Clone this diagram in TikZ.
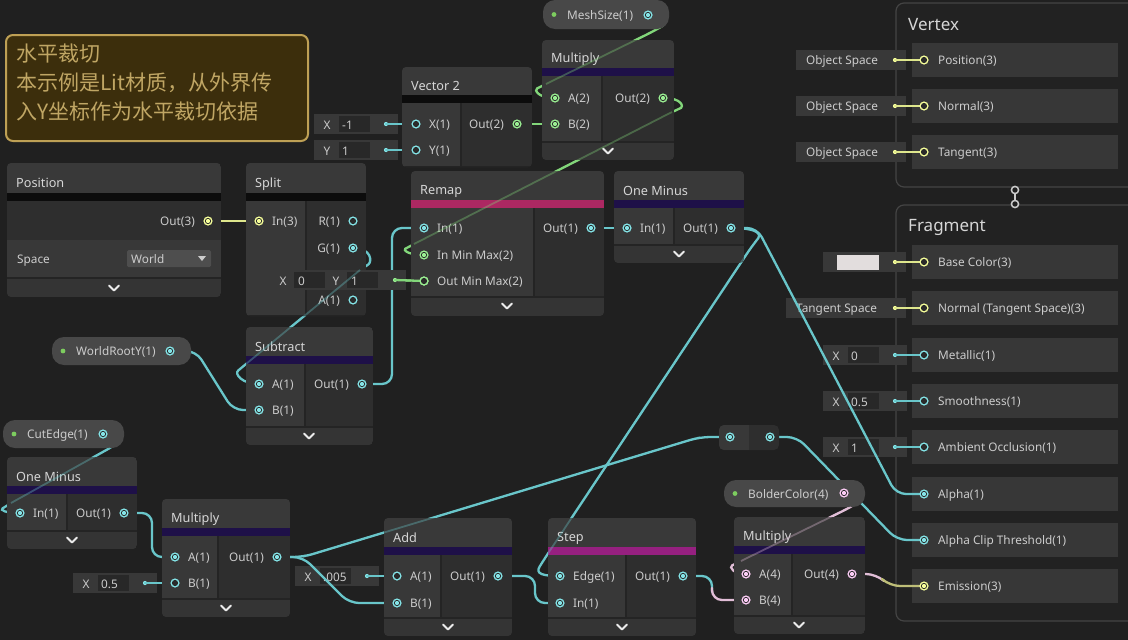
\documentclass[tikz,border=0pt]{standalone}
\usepackage{fontspec}
\setmainfont{Noto Sans}
\newfontfamily\cjk{Noto Sans CJK SC}
\usetikzlibrary{calc}
\definecolor{bg}{RGB}{32,32,32}
\definecolor{hdrc}{RGB}{57,57,57}
\definecolor{incol}{RGB}{56,56,56}
\definecolor{outcol}{RGB}{46,46,46}
\definecolor{colc}{RGB}{52,52,52}
\definecolor{sepc}{RGB}{36,36,36}
\definecolor{barblack}{RGB}{12,12,12}
\definecolor{barpurple}{RGB}{30,16,72}
\definecolor{barremap}{RGB}{172,40,98}
\definecolor{barstep}{RGB}{150,32,128}
\definecolor{cyanp}{RGB}{132,228,231}
\definecolor{greenp}{RGB}{154,239,146}
\definecolor{yellowp}{RGB}{246,255,154}
\definecolor{pinkp}{RGB}{251,203,244}
\definecolor{cyanw}{RGB}{105,198,202}
\definecolor{greenw}{RGB}{130,214,122}
\definecolor{yelloww}{RGB}{222,230,140}
\definecolor{pinkw}{RGB}{225,190,215}
\definecolor{olivew}{RGB}{190,190,120}
\definecolor{portbg}{RGB}{42,42,42}
\definecolor{txt}{RGB}{204,204,204}
\definecolor{ttlc}{RGB}{214,214,214}
\definecolor{pillc}{RGB}{72,72,72}
\definecolor{propdot}{RGB}{125,205,95}
\definecolor{slotc}{RGB}{55,55,55}
\definecolor{stackfill}{RGB}{34,34,34}
\definecolor{stackline}{RGB}{68,68,68}
\definecolor{fbox}{RGB}{56,56,56}
\definecolor{fin}{RGB}{40,40,40}
\definecolor{ddc}{RGB}{78,78,78}
\definecolor{notefill}{RGB}{60,46,12}
\definecolor{noteline}{RGB}{190,160,85}
\definecolor{notetxt}{RGB}{192,166,100}
\definecolor{chevc}{RGB}{235,235,235}
\definecolor{swatch}{RGB}{226,221,221}

\newcommand{\gnode}[9]{%
\coordinate (#1) at ({(#2+#4)/2},{(#3+#5)/2});
\begin{scope}
\clip[rounded corners=4] (#2,#3) rectangle (#4,#5);
\fill[hdrc] (#2,#3) rectangle (#4,#6);
\fill[#9] (#2,#6) rectangle (#4,#6+8);
\fill[incol] (#2,#6+8) rectangle (#7,#8);
\fill[outcol] (#7,#6+8) rectangle (#4,#8);
\fill[colc] (#2,#8) rectangle (#4,#5);
\draw[sepc,line width=1.2] (#7,#6+8) -- (#7,#8);
\draw[sepc,line width=1.2] (#2,#8) -- (#4,#8);
\end{scope}}
\newcommand{\gchev}[2]{\draw[chevc,line width=2,line cap=round,line join=round] (#1-5,#2-2.5) -- (#1,#2+2.5) -- (#1+5,#2-2.5);}
\newcommand{\gportf}[2]{\fill[#2] (#1) circle (4.6); \fill[portbg] (#1) circle (3.1); \fill[#2] (#1) circle (2.1);}
\newcommand{\gporth}[2]{\fill[#2] (#1) circle (4.6); \fill[portbg] (#1) circle (3.1);}
\newcommand{\ginf}[6]{% name letter x1 yc value dotcolour
\fill[fbox] (#3,#4-10) rectangle (#3+84,#4+10);
\fill[fin] (#3+25,#4-8) rectangle (#3+56,#4+8);
\node[lbl,anchor=center] (#1-l) at (#3+13,#4) {#2};
\node[lbl] (#1-v) at (#3+28,#4) {#5};
\fill[#6] (#3+72,#4) circle (2.1);}
\newcommand{\gpill}[8]{% name x1 y1 x2 y2 text port portcolour
\fill[pillc,rounded corners=12] (#2,#3) rectangle (#4,#5);
\fill[propdot] (#2+11,{(#3+#5)/2}) circle (2.4);
\node[lbl] (#1) at (#2+24,{(#3+#5)/2}) {#6};
\gportf{#7}{#8}}

\begin{document}
\begin{tikzpicture}[x=1pt,y=-1pt,
  lbl/.style={text=txt,font=\fontsize{11.8}{13}\selectfont,inner sep=0pt,anchor=west,yshift=-1.3pt},
  lblr/.style={lbl,anchor=east},
  ttl/.style={text=ttlc,font=\fontsize{12.7}{14}\selectfont,inner sep=0pt,anchor=west,yshift=-1.2pt},
  big/.style={text=ttlc,font=\fontsize{17}{19}\selectfont,inner sep=0pt,anchor=west,yshift=-1.2pt},
  notet/.style={text=notetxt,font=\cjk\fontsize{21}{24}\selectfont,inner sep=0pt,anchor=west},
  wire/.style={line width=2.3,line cap=round,rounded corners=10},
  fade/.style={line width=1.8,opacity=0.35}]
\fill[bg] (0,0) rectangle (1128,640);
\useasboundingbox (0,0) rectangle (1128,640);

% ---------- coordinates of ports ----------
\coordinate (pos-out) at (208,221);
\coordinate (split-in) at (259,221);
\coordinate (split-r) at (353,221);
\coordinate (split-g) at (353,248);
\coordinate (split-a) at (353,300);
\coordinate (v2-x) at (416,124);
\coordinate (v2-y) at (416,150);
\coordinate (v2-out) at (517,124);
\coordinate (v2x-dot) at (386,124);
\coordinate (v2y-dot) at (386,150);
\coordinate (mesh-out) at (648,15);
\coordinate (mul1-a) at (555,98);
\coordinate (mul1-b) at (555,124);
\coordinate (mul1-out) at (663,98);
\coordinate (remap-in) at (424,228);
\coordinate (remap-inmm) at (424,255);
\coordinate (remap-omm) at (424,281);
\coordinate (remap-out) at (591,228);
\coordinate (omm-dot) at (395,280);
\coordinate (om1-in) at (627,228);
\coordinate (om1-out) at (731,228);
\coordinate (sub-a) at (259,384);
\coordinate (sub-b) at (259,410);
\coordinate (sub-out) at (362,384);
\coordinate (wry-out) at (170,351);
\coordinate (cut-out) at (103,434);
\coordinate (om2-in) at (20,513);
\coordinate (om2-out) at (124,513);
\coordinate (mul2-a) at (175,557);
\coordinate (mul2-b) at (175,583);
\coordinate (mul2-out) at (277,557);
\coordinate (half-dot) at (145,583);
\coordinate (add-a) at (397,576);
\coordinate (add-b) at (397,603);
\coordinate (add-out) at (498,576);
\coordinate (d005-dot) at (367,576);
\coordinate (step-edge) at (560,576);
\coordinate (step-in) at (560,603);
\coordinate (step-out) at (683,576);
\coordinate (rr-in) at (730,437);
\coordinate (rr-out) at (770,437);
\coordinate (bc-out) at (844,493);
\coordinate (mul3-a) at (746,574);
\coordinate (mul3-b) at (746,600);
\coordinate (mul3-out) at (852,574);
\coordinate (v-pos) at (924,60);
\coordinate (v-nrm) at (924,106);
\coordinate (v-tan) at (924,152);
\coordinate (f-base) at (924,262);
\coordinate (f-nrm) at (924,308);
\coordinate (f-met) at (924,355);
\coordinate (f-smo) at (924,401);
\coordinate (f-ao) at (924,447);
\coordinate (f-alpha) at (924,494);
\coordinate (f-clip) at (924,540);
\coordinate (f-emi) at (924,586);
\foreach \n/\y in {vpos/60,vnrm/106,vtan/152,fbase/262,fnrm/308,fmet/355,fsmo/401,fao/447}{\coordinate (\n-dot) at (895,\y);}

% ---------- sticky note ----------
\draw[noteline,fill=notefill,line width=2,rounded corners=7] (6,35) rectangle (308,141);
\coordinate (note) at (157,88);
\node[notet] (note1) at (16,54) {水平裁切};
\node[notet] (note2) at (16,83) {本示例是Lit材质，从外界传};
\node[notet] (note3) at (16,112) {入Y坐标作为水平裁切依据};

% ---------- master stacks ----------
\draw[stackline,fill=stackfill,line width=1.2,rounded corners=8] (896,3) rectangle (1150,187);
\coordinate (vertex) at (1010,95);
\node[big] (vertex-t) at (908,23) {Vertex};
\draw[stackline,fill=stackfill,line width=1.2,rounded corners=8] (896,205) rectangle (1150,621);
\coordinate (fragment) at (1010,410);
\node[big] (fragment-t) at (908,226) {Fragment};
\coordinate (vf-top) at (1015,190);
\coordinate (vf-bot) at (1015,204);
\draw[txt,line width=1.5] (vf-top) -- (vf-bot);
\draw[txt,line width=1.5,fill=bg] (vf-top) circle (3.6);
\draw[txt,line width=1.5,fill=bg] (vf-bot) circle (3.6);
\foreach \y/\t in {60/Position(3),106/Normal(3),152/Tangent(3),262/Base Color(3),308/Normal (Tangent Space)(3),355/Metallic(1),401/Smoothness(1),447/Ambient Occlusion(1),494/Alpha(1),540/Alpha Clip Threshold(1),586/Emission(3)}{
  \fill[slotc] (912,\y-17) rectangle (1118,\y+17);
  \node[lbl] (slot-\y) at (938,\y) {\t};}

% master inline fields
\foreach \y in {60,106,152}{
  \fill[fbox] (796,\y-10) rectangle (906,\y+10);
  \node[lbl] (os-\y) at (806,\y) {Object Space};
  \fill[yellowp] (895,\y) circle (2.1);}
\fill[fbox] (823,252) rectangle (906,272);
\fill[swatch] (837,255) rectangle (879,270);
\fill[yellowp] (fbase-dot) circle (2.1);
\fill[fbox] (786,298) rectangle (906,318);
\node[lbl] (ts) at (796,308) {Tangent Space};
\fill[yellowp] (fnrm-dot) circle (2.1);
\ginf{met}{X}{823}{355}{0}{cyanp}
\ginf{smo}{X}{823}{401}{0.5}{cyanp}
\ginf{ao}{X}{823}{447}{1}{cyanp}

% other inline fields
\ginf{v2x}{X}{314}{124}{-1}{cyanp}
\ginf{v2y}{Y}{314}{150}{1}{cyanp}
\ginf{half}{X}{73}{583}{0.5}{cyanp}
\ginf{d005}{X}{295}{576}{.005}{cyanp}

% ---------- wires ----------
\draw[wire,yelloww] (pos-out) -- (split-in);
\draw[wire,greenw] (omm-dot) -- (remap-omm);
\draw[wire,greenw] (v2-out) -- (mul1-b);
\draw[wire,cyanw] (v2x-dot) -- (v2-x);
\draw[wire,cyanw] (v2y-dot) -- (v2-y);
\draw[wire,cyanw] (remap-out) -- (om1-in);
\draw[wire,cyanw] (half-dot) -- (mul2-b);
\draw[wire,cyanw] (d005-dot) -- (add-a);
\foreach \n/\m in {vpos/v-pos,vnrm/v-nrm,vtan/v-tan,fbase/f-base,fnrm/f-nrm}{\draw[wire,yelloww] (\n-dot) -- (\m);}
\foreach \n/\m in {fmet/f-met,fsmo/f-smo,fao/f-ao}{\draw[wire,cyanw] (\n-dot) -- (\m);}
\draw[wire,cyanw] (split-g) .. controls (372,248) and (372,262) .. (360,270) -- (246,364) .. controls (234,374) and (242,384) .. (sub-a);
\draw[wire,cyanw] (wry-out) -- (196,351) -- (233,410) -- (sub-b);
\draw[wire,cyanw] (sub-out) -- (392,384) -- (392,228) -- (remap-in);
\draw[wire,greenw] (mesh-out) .. controls (666,15) and (666,24) .. (654,31) -- (546,84) .. controls (534,90) and (538,98) .. (mul1-a);
\draw[wire,greenw] (mul1-out) .. controls (683,98) and (683,107) .. (672,112) -- (414,244) .. controls (403,250) and (408,255) .. (remap-inmm);
\draw[wire,cyanw] (om1-out) -- (757,228) -- (896,494) -- (f-alpha);
\draw[wire,cyanw] (om1-out) .. controls (762,228) and (760,236) .. (752,246) -- (545,558) .. controls (535,574) and (543,576) .. (step-edge);
\draw[wire,cyanw] (cut-out) .. controls (121,434) and (120,442) .. (110,448) -- (11,503) .. controls (0,510) and (5,513) .. (om2-in);
\draw[wire,cyanw] (om2-out) -- (152,513) -- (152,557) -- (mul2-a);
\draw[wire,cyanw] (mul2-out) -- (303,557) -- (700,437) -- (rr-in);
\draw[wire,cyanw] (mul2-out) -- (303,557) -- (349,603) -- (add-b);
\draw[wire,cyanw] (add-out) -- (535,576) -- (535,603) -- (step-in);
\draw[wire,cyanw] (step-out) -- (712,576) -- (712,592);
\draw[wire,pinkw] (712,588) -- (712,600) -- (mul3-b);
\draw[wire,pinkw] (bc-out) .. controls (862,493) and (862,500) .. (851,507) -- (741,561) .. controls (729,567) and (733,574) .. (mul3-a);
\draw[wire,pinkw] (mul3-out) -- (876,574) -- (884,581);
\draw[wire,olivew] (882,579) -- (890,586) -- (f-emi);
\draw[wire,cyanw] (rr-out) -- (797,437) -- (897,540) -- (f-clip);

% ---------- graph nodes ----------
% Position
\coordinate (position) at (114,230);
\begin{scope}
\clip[rounded corners=4] (7,163) rectangle (221,297);
\fill[hdrc] (7,163) rectangle (221,193);
\fill[barblack] (7,193) rectangle (221,201);
\fill[outcol] (7,201) rectangle (221,240);
\fill[incol] (7,240) rectangle (221,278);
\fill[colc] (7,278) rectangle (221,297);
\draw[sepc,line width=1.2] (7,278) -- (221,278);
\end{scope}
\node[ttl] (position-t) at (16,182) {Position};
\node[lblr] (pos-out-l) at (195,221) {Out(3)};
\node[lbl] (space-l) at (17,259) {Space};
\fill[ddc,rounded corners=1.5] (127,250) rectangle (211,267);
\node[lbl] (space-v) at (131,258) {World};
\fill[txt] (198,256) -- (206,256) -- (202,261) -- cycle;
\gchev{114}{288}
\gportf{pos-out}{yellowp}

% Split
\gnode{split}{246}{163}{366}{316}{193}{306}{316}{barblack}
\node[ttl] (split-t) at (255,183) {Split};
\node[lbl] (split-in-l) at (272,221) {In(3)};
\node[lblr] (split-r-l) at (340,221) {R(1)};
\node[lblr] (split-g-l) at (340,248) {G(1)};
\node[lblr] (split-a-l) at (340,300) {A(1)};
\gportf{split-in}{yellowp}
\gporth{split-r}{cyanp}
\gportf{split-g}{cyanp}
\gporth{split-a}{cyanp}

% Vector 2
\gnode{vector2}{402}{67}{532}{167}{95}{461}{167}{barblack}
\node[ttl] (vector2-t) at (411,85) {Vector 2};
\node[lbl] (v2-x-l) at (429,124) {X(1)};
\node[lbl] (v2-y-l) at (429,150) {Y(1)};
\node[lblr] (v2-out-l) at (504,124) {Out(2)};
\gporth{v2-x}{cyanp}
\gporth{v2-y}{cyanp}
\gportf{v2-out}{greenp}

% Multiply (top)
\gnode{mul1}{542}{40}{674}{160}{68}{602}{142}{barpurple}
\node[ttl] (mul1-t) at (551,58) {Multiply};
\node[lbl] (mul1-a-l) at (568,98) {A(2)};
\node[lbl] (mul1-b-l) at (568,124) {B(2)};
\node[lblr] (mul1-out-l) at (650,98) {Out(2)};
\gchev{608}{151}
\gportf{mul1-a}{greenp}
\gportf{mul1-b}{greenp}
\gportf{mul1-out}{greenp}

% Remap
\gnode{remap}{411}{171}{604}{316}{200}{534}{297}{barremap}
\node[ttl] (remap-t) at (420,190) {Remap};
\node[lbl] (remap-in-l) at (437,228) {In(1)};
\node[lbl] (remap-inmm-l) at (437,255) {In Min Max(2)};
\node[lbl] (remap-omm-l) at (437,281) {Out Min Max(2)};
\node[lblr] (remap-out-l) at (578,228) {Out(1)};
\gchev{507}{306}
\gportf{remap-in}{cyanp}
\gportf{remap-inmm}{greenp}
\gporth{remap-omm}{greenp}
\gportf{remap-out}{cyanp}

% inline field of Out Min Max (drawn over Split)
\fill[fbox] (269,270) rectangle (406,290);
\fill[fin] (294,272) rectangle (325,288);
\fill[fin] (347,272) rectangle (378,288);
\node[lbl,anchor=center] (omm-x) at (283,280) {X};
\node[lbl] (omm-xv) at (298,280) {0};
\node[lbl,anchor=center] (omm-y) at (336,280) {Y};
\node[lbl] (omm-yv) at (351,280) {1};
\fill[greenp] (omm-dot) circle (2.1);
\draw[wire,greenw] (omm-dot) -- (remap-omm);
\gporth{remap-omm}{greenp}

% One Minus (top)
\gnode{om1}{614}{171}{744}{263}{200}{674}{245}{barpurple}
\node[ttl] (om1-t) at (623,190) {One Minus};
\node[lbl] (om1-in-l) at (640,228) {In(1)};
\node[lblr] (om1-out-l) at (718,228) {Out(1)};
\gchev{679}{254}
\gportf{om1-in}{cyanp}
\gportf{om1-out}{cyanp}

% Subtract
\gnode{sub}{246}{327}{373}{445}{356}{305}{427}{barpurple}
\node[ttl] (sub-t) at (255,346) {Subtract};
\node[lbl] (sub-a-l) at (272,384) {A(1)};
\node[lbl] (sub-b-l) at (272,410) {B(1)};
\node[lblr] (sub-out-l) at (349,384) {Out(1)};
\gchev{309}{436}
\gportf{sub-a}{cyanp}
\gportf{sub-b}{cyanp}
\gportf{sub-out}{cyanp}

% properties
\gpill{mesh}{543}{0}{669}{29}{MeshSize(1)}{mesh-out}{cyanp}
\gpill{wry}{52}{337}{191}{365}{WorldRootY(1)}{wry-out}{cyanp}
\gpill{cut}{3}{420}{124}{448}{CutEdge(1)}{cut-out}{cyanp}
\gpill{bc}{724}{480}{865}{507}{BolderColor(4)}{bc-out}{pinkp}

% One Minus (bottom)
\gnode{om2}{7}{457}{137}{549}{486}{67}{531}{barpurple}
\node[ttl] (om2-t) at (16,476) {One Minus};
\node[lbl] (om2-in-l) at (33,513) {In(1)};
\node[lblr] (om2-out-l) at (111,513) {Out(1)};
\gchev{72}{540}
\gportf{om2-in}{cyanp}
\gportf{om2-out}{cyanp}

% Multiply (bottom left)
\gnode{mul2}{162}{499}{290}{617}{528}{218}{599}{barpurple}
\node[ttl] (mul2-t) at (171,518) {Multiply};
\node[lbl] (mul2-a-l) at (188,557) {A(1)};
\node[lbl] (mul2-b-l) at (188,583) {B(1)};
\node[lblr] (mul2-out-l) at (264,557) {Out(1)};
\gchev{226}{608}
\gportf{mul2-a}{cyanp}
\gporth{mul2-b}{cyanp}
\gportf{mul2-out}{cyanp}

% Add
\gnode{add}{384}{518}{512}{636}{547}{441}{618}{barpurple}
\node[ttl] (add-t) at (393,537) {Add};
\node[lbl] (add-a-l) at (410,576) {A(1)};
\node[lbl] (add-b-l) at (410,603) {B(1)};
\node[lblr] (add-out-l) at (485,576) {Out(1)};
\gchev{448}{627}
\gporth{add-a}{cyanp}
\gportf{add-b}{cyanp}
\gportf{add-out}{cyanp}

% Step
\gnode{step}{548}{518}{696}{636}{547}{626}{618}{barstep}
\node[ttl] (step-t) at (557,537) {Step};
\node[lbl] (step-edge-l) at (573,576) {Edge(1)};
\node[lbl] (step-in-l) at (573,603) {In(1)};
\node[lblr] (step-out-l) at (670,576) {Out(1)};
\gchev{622}{627}
\gportf{step-edge}{cyanp}
\gportf{step-in}{cyanp}
\gportf{step-out}{cyanp}

% Redirect
\coordinate (redirect) at (749,437);
\fill[outcol,rounded corners=5] (719,425) rectangle (779,450);
\begin{scope}
\clip[rounded corners=5] (719,425) rectangle (779,450);
\fill[incol] (719,425) rectangle (749,450);
\end{scope}
\gportf{rr-in}{cyanp}
\gportf{rr-out}{cyanp}

% Multiply (right)
\gnode{mul3}{734}{517}{865}{634}{546}{792}{616}{barpurple}
\node[ttl] (mul3-t) at (743,536) {Multiply};
\node[lbl] (mul3-a-l) at (759,574) {A(4)};
\node[lbl] (mul3-b-l) at (759,600) {B(4)};
\node[lblr] (mul3-out-l) at (839,574) {Out(4)};
\gchev{799}{625}
\gportf{mul3-a}{pinkp}
\gportf{mul3-b}{pinkp}
\gportf{mul3-out}{pinkp}

% master ports
\foreach \m in {v-pos,v-nrm,v-tan,f-base,f-nrm}{\gporth{\m}{yellowp}}
\foreach \m in {f-met,f-smo,f-ao}{\gporth{\m}{cyanp}}
\gportf{f-alpha}{cyanp}
\gportf{f-clip}{cyanp}
\gportf{f-emi}{yellowp}

% ---------- faint wire segments over nodes ----------
\draw[fade,cyanw] (360,270) -- (246,364);
\draw[fade,greenw] (654,31) -- (546,84);
\draw[fade,greenw] (672,112) -- (414,244);
\draw[fade,cyanw] (752,246) -- (545,558);
\draw[fade,cyanw] (110,448) -- (11,503);
\draw[fade,cyanw] (303,557) -- (700,437);
\draw[fade,pinkw] (851,507) -- (741,561);
\end{tikzpicture}
\end{document}
